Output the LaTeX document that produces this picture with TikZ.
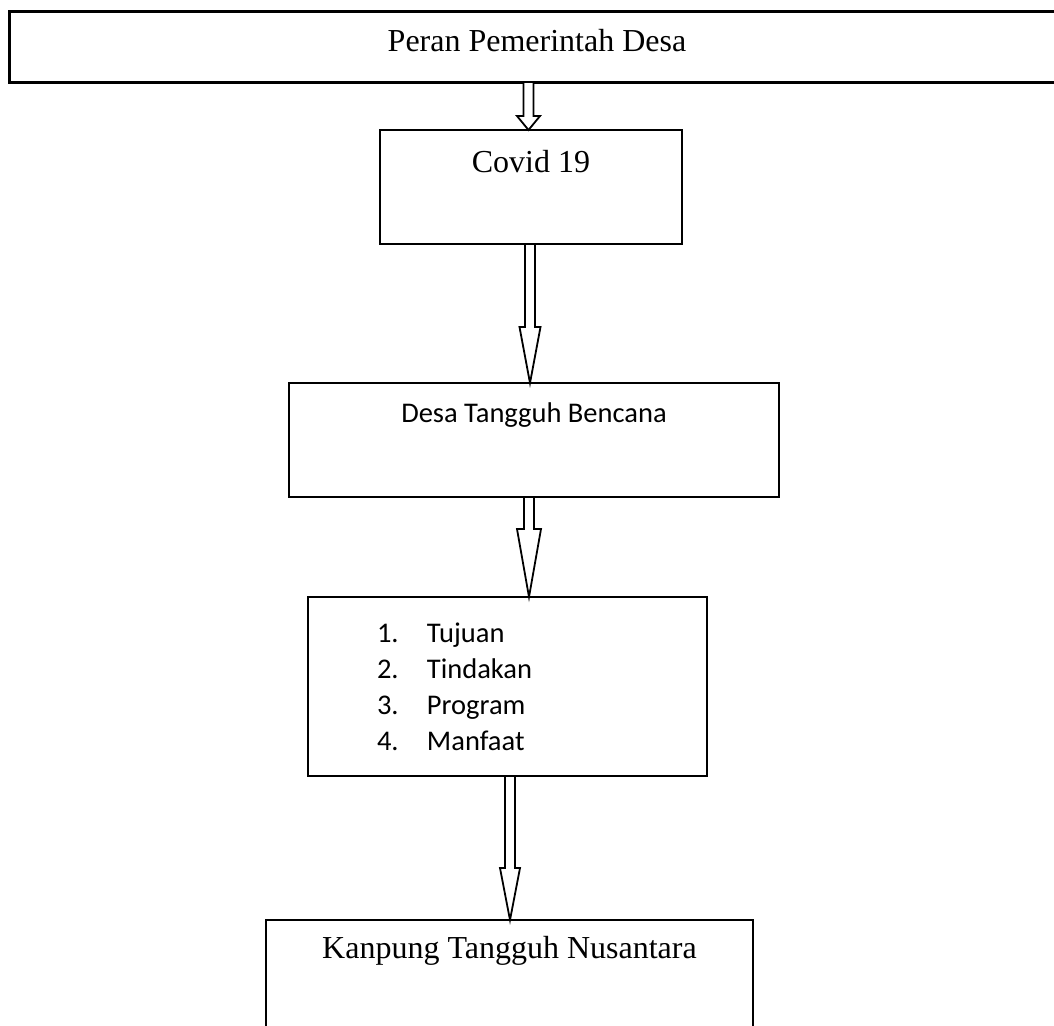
\documentclass[tikz,border=0pt]{standalone}
\usepackage{fontspec}
\setmainfont{Liberation Serif}
\newfontfamily\calibri{Carlito}
\usetikzlibrary{calc}

% hollow block arrow: source, target, x, head length, head half width
\newcommand{\blockarrow}[5]{%
  \draw[hollow] let \p1=(#1.south), \p2=(#2.north) in
    (#3pt-5pt,\y1) -- (#3pt-5pt,\y2+#4pt) -- (#3pt-#5pt,\y2+#4pt) -- (#3pt,\y2)
    -- (#3pt+#5pt,\y2+#4pt) -- (#3pt+5pt,\y2+#4pt) -- (#3pt+5pt,\y1) -- cycle;}

\begin{document}
\begin{tikzpicture}[
    x=1pt, y=-1pt,
    box/.style={rectangle, draw=black, line width=2.4pt, fill=white, inner sep=0pt,
      outer sep=0pt, anchor=north, align=center},
    serifbox/.style={box, font=\fontsize{32}{38}\selectfont},
    sansbox/.style={box, font=\calibri\fontsize{28.5}{36}\selectfont},
    listbox/.style={sansbox, align=left, inner xsep=69pt, inner ysep=0pt},
    hollow/.style={draw=black, line width=1.8pt, fill=white, line join=miter},
  ]
  \useasboundingbox (0,0) rectangle (1054,1025);

  \node[serifbox, line width=3pt, minimum width=1056pt, text height=40pt, text depth=30pt]
    (peran) at (537,12) {Peran Pemerintah Desa};
  \node[serifbox, minimum width=302pt, text height=42pt, text depth=72pt]
    (covid) at (531,130) {Covid 19};
  \node[sansbox, minimum width=490pt, text height=39pt, text depth=75pt]
    (desa) at (534,383) {Desa Tangguh Bencana};
  \node[listbox, text width=261pt, minimum height=179pt]
    (tasks) at (507.5,597) {\makebox[50pt][l]{1.}Tujuan\\
      \makebox[50pt][l]{2.}Tindakan\\
      \makebox[50pt][l]{3.}Program\\
      \makebox[50pt][l]{4.}Manfaat};
  \node[serifbox, minimum width=487pt, text height=38pt, text depth=130pt]
    (kampung) at (509.5,920) {Kanpung Tangguh Nusantara};

  \blockarrow{peran}{covid}{528.5}{14}{11.5}
  \blockarrow{covid}{desa}{530}{56}{10.5}
  \blockarrow{desa}{tasks}{529}{68}{12}
  \blockarrow{tasks}{kampung}{510}{52}{10}
\end{tikzpicture}
\end{document}
